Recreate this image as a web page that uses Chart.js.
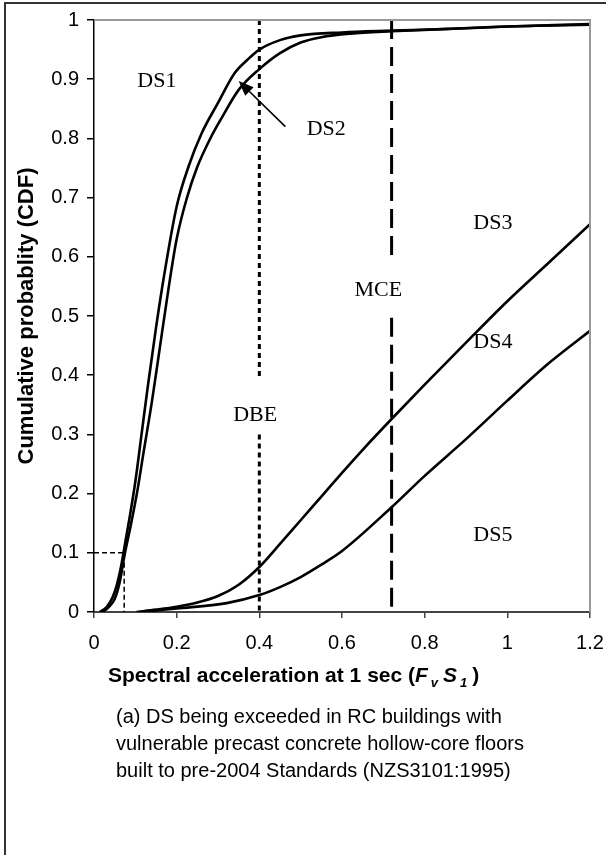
<!DOCTYPE html>
<html><head><meta charset="utf-8">
<script src="https://cdn.jsdelivr.net/npm/chart.js@4"></script>
<style>html,body{margin:0;padding:0;background:#fff;}canvas{display:block}</style>
</head><body>
<canvas id="c" width="606" height="855"></canvas>
<script>
// ---------- data ----------
const ds1X = [0.014, 0.03, 0.045, 0.055, 0.065, 0.075, 0.085, 0.1, 0.115, 0.13, 0.15, 0.17, 0.2, 0.23, 0.26, 0.3, 0.34, 0.37, 0.4, 0.45, 0.5, 0.6, 0.72, 0.9, 1.0, 1.2];
const ds1Y = [0, 0.008, 0.025, 0.045, 0.075, 0.115, 0.155, 0.22, 0.30, 0.38, 0.48, 0.57, 0.685, 0.755, 0.808, 0.86, 0.91, 0.932, 0.95, 0.966, 0.974, 0.979, 0.982, 0.986, 0.989, 0.993];
const ds2X = [0.020, 0.035, 0.05, 0.062, 0.075, 0.09, 0.105, 0.12, 0.14, 0.16, 0.18, 0.2, 0.225, 0.25, 0.28, 0.31, 0.35, 0.4, 0.45, 0.5, 0.55, 0.62, 0.72, 0.86, 1.0, 1.2];
const ds2Y = [0, 0.008, 0.022, 0.05, 0.10, 0.15, 0.205, 0.27, 0.355, 0.45, 0.545, 0.63, 0.70, 0.752, 0.798, 0.836, 0.882, 0.917, 0.944, 0.962, 0.971, 0.977, 0.981, 0.985, 0.989, 0.992];
const ds3X = [0.103, 0.15, 0.2, 0.25, 0.3, 0.35, 0.4, 0.45, 0.5, 0.55, 0.6, 0.65, 0.72, 0.8, 0.9, 1.0, 1.1, 1.2];
const ds3Y = [0, 0.004, 0.009, 0.016, 0.027, 0.046, 0.076, 0.115, 0.155, 0.195, 0.235, 0.274, 0.326, 0.384, 0.455, 0.525, 0.59, 0.655];
const ds4X = [0.11, 0.2, 0.321, 0.402, 0.45, 0.5, 0.55, 0.6, 0.72, 0.8, 0.9, 1.0, 1.1, 1.2];
const ds4Y = [0, 0.006, 0.015, 0.029, 0.042, 0.059, 0.08, 0.103, 0.177, 0.23, 0.292, 0.357, 0.42, 0.475];

const dbeX = 0.4;            // design basis earthquake
const dbeY = [1, 0.393, null, 0.3, 0];
const mceX = 0.72;           // maximum considered earthquake
const mceY = [1, 0.597, null, 0.497, 0];
const refProb = 0.1;         // 10% probability marker
const refSa = 0.073;

const xTickVals = [0, 0.2, 0.4, 0.6, 0.8, 1, 1.2];
const xTickLabels = ['0', '0.2', '0.4', '0.6', '0.8', '1', '1.2'];
const yTickVals = [0, 0.1, 0.2, 0.3, 0.4, 0.5, 0.6, 0.7, 0.8, 0.9, 1];
const yTickLabels = ['0', '0.1', '0.2', '0.3', '0.4', '0.5', '0.6', '0.7', '0.8', '0.9', '1'];

const zip = (xs, ys) => xs.map((x, i) => ({x: x, y: ys[i]}));
const vline = (x, ys) => ys.map(y => ({x: x, y: y}));

// ---------- annotations (data coordinates) ----------
const notes = [
  {t: 'DS1', x: 0.152, y: 0.896},
  {t: 'DS2', x: 0.562, y: 0.816},
  {t: 'DS3', x: 0.965, y: 0.657},
  {t: 'DS4', x: 0.965, y: 0.455},
  {t: 'DS5', x: 0.965, y: 0.130},
  {t: 'MCE', x: 0.688, y: 0.543},
  {t: 'DBE', x: 0.390, y: 0.332}
];
const arrowFrom = {x: 0.463, y: 0.820};
const arrowTo = {x: 0.350, y: 0.897};

const SANS = '"Liberation Sans", Arial, sans-serif';
const SERIF = '"Liberation Serif", "Times New Roman", serif';

const decor = {
  id: 'decor',
  afterDraw(chart) {
    const ctx = chart.ctx, a = chart.chartArea;
    const xs = chart.scales.x, ys = chart.scales.y;
    ctx.save();
    // outer frame (left and top edges visible)
    ctx.strokeStyle = '#333'; ctx.lineWidth = 2;
    ctx.beginPath(); ctx.moveTo(5, 855); ctx.lineTo(5, 3); ctx.lineTo(606, 3); ctx.stroke();
    // plot area top/right border
    ctx.strokeStyle = '#999'; ctx.lineWidth = 2;
    ctx.beginPath(); ctx.moveTo(a.left, a.top); ctx.lineTo(a.right, a.top); ctx.lineTo(a.right, a.bottom); ctx.stroke();
    // labels
    ctx.fillStyle = '#000';
    ctx.font = '22px ' + SERIF; ctx.textAlign = 'center'; ctx.textBaseline = 'middle';
    notes.forEach(n => ctx.fillText(n.t, xs.getPixelForValue(n.x), ys.getPixelForValue(n.y)));
    // arrow
    const x0 = xs.getPixelForValue(arrowFrom.x), y0 = ys.getPixelForValue(arrowFrom.y);
    const x1 = xs.getPixelForValue(arrowTo.x), y1 = ys.getPixelForValue(arrowTo.y);
    const ang = Math.atan2(y1 - y0, x1 - x0), L = 15, W = 6;
    const bx = x1 - L * Math.cos(ang), by = y1 - L * Math.sin(ang);
    ctx.strokeStyle = '#000'; ctx.lineWidth = 1.6;
    ctx.beginPath(); ctx.moveTo(x0, y0); ctx.lineTo(bx, by); ctx.stroke();
    ctx.beginPath(); ctx.moveTo(x1, y1);
    ctx.lineTo(bx + W * Math.sin(ang), by - W * Math.cos(ang));
    ctx.lineTo(bx - W * Math.sin(ang), by + W * Math.cos(ang));
    ctx.closePath(); ctx.fill();
    // y title
    ctx.save();
    ctx.translate(27, (a.top + a.bottom) / 2);
    ctx.rotate(-Math.PI / 2);
    ctx.font = 'bold 22px ' + SANS; ctx.textAlign = 'center'; ctx.textBaseline = 'middle';
    ctx.fillText('Cumulative probablity (CDF)', 0, 0);
    ctx.restore();
    // x title with italic / subscript parts
    const parts = [
      {t: 'Spectral acceleration at 1 sec (', f: 'bold 21px ', dy: 0, gap: 0},
      {t: 'F', f: 'italic bold 21px ', dy: 0, gap: 3},
      {t: 'v', f: 'italic bold 13px ', dy: 5, gap: 5},
      {t: 'S', f: 'italic bold 21px ', dy: 0, gap: 3},
      {t: '1', f: 'italic bold 13px ', dy: 5, gap: 5},
      {t: ')', f: 'bold 21px ', dy: 0, gap: 0}
    ];
    ctx.textAlign = 'left'; ctx.textBaseline = 'alphabetic';
    let tx = 108; const base = 682;
    parts.forEach(p => { ctx.font = p.f + SANS; ctx.fillText(p.t, tx, base + p.dy); tx += ctx.measureText(p.t).width + p.gap; });
    // caption
    ctx.font = '20px ' + SANS; ctx.textBaseline = 'middle';
    ['(a) DS being exceeded in RC buildings with',
     'vulnerable precast concrete hollow-core floors',
     'built to pre-2004 Standards (NZS3101:1995)'].forEach((l, i) => ctx.fillText(l, 116, 717 + i * 27));
    ctx.restore();
  }
};

const curve = d => ({data: d, borderColor: '#000', borderWidth: 2.6, pointRadius: 0, cubicInterpolationMode: 'monotone', fill: false});

new Chart(document.getElementById('c'), {
  type: 'line',
  data: {
    datasets: [
      {data: vline(dbeX, dbeY), borderColor: '#000', borderWidth: 3, borderDash: [5, 4], pointRadius: 0, spanGaps: false},
      {data: vline(mceX, mceY), borderColor: '#000', borderWidth: 3, borderDash: [19, 8], pointRadius: 0, spanGaps: false},
      {data: [{x: 0, y: refProb}, {x: refSa, y: refProb}, {x: refSa, y: 0}], borderColor: '#000', borderWidth: 1.5, borderDash: [5, 3], pointRadius: 0},
      curve(zip(ds1X, ds1Y)),
      curve(zip(ds2X, ds2Y)),
      curve(zip(ds3X, ds3Y)),
      curve(zip(ds4X, ds4Y))
    ]
  },
  options: {
    responsive: false, animation: false, devicePixelRatio: 1,
    layout: {padding: {left: 0, right: 16, top: 20, bottom: 0}},
    plugins: {legend: {display: false}, tooltip: {enabled: false}},
    scales: {
      x: {
        type: 'linear', min: 0, max: 1.2,
        afterBuildTicks: s => { s.ticks = xTickVals.map(v => ({value: v})); },
        afterFit: s => { s.height = 855 - 612; s.paddingLeft = 0; s.paddingRight = 0; },
        ticks: {callback: (v, i) => xTickLabels[i], font: {family: SANS, size: 20}, color: '#000', padding: 13, maxRotation: 0, autoSkip: false},
        grid: {drawOnChartArea: false, tickLength: 6, color: '#444', lineWidth: 1.5},
        border: {color: '#444', width: 2}
      },
      y: {
        type: 'linear', min: 0, max: 1,
        afterBuildTicks: s => { s.ticks = yTickVals.map(v => ({value: v})); },
        afterFit: s => { s.width = 94; s.paddingTop = 0; s.paddingBottom = 0; },
        ticks: {callback: (v, i) => yTickLabels[i], font: {family: SANS, size: 20}, color: '#000', padding: 8, autoSkip: false},
        grid: {drawOnChartArea: false, tickLength: 7, color: '#000', lineWidth: 1.5},
        border: {color: '#000', width: 1.5}
      }
    }
  },
  plugins: [decor]
});
</script>
</body></html>
